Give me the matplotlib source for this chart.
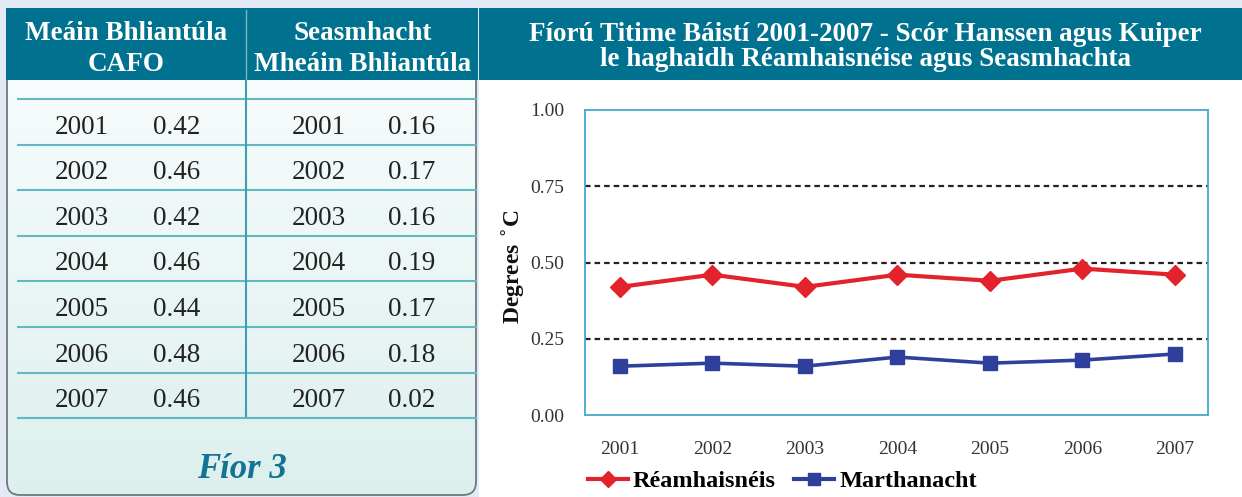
import matplotlib
matplotlib.use('Agg')
import matplotlib.pyplot as plt
from matplotlib.patches import FancyBboxPatch, Rectangle
from matplotlib.lines import Line2D
from matplotlib.font_manager import FontProperties
import numpy as np

# ---------------- data ----------------
years = ['2001', '2002', '2003', '2004', '2005', '2006', '2007']
cafo_table = ['0.42', '0.46', '0.42', '0.46', '0.44', '0.48', '0.46']
seas_table = ['0.16', '0.17', '0.16', '0.19', '0.17', '0.18', '0.02']
forecast = [0.42, 0.46, 0.42, 0.46, 0.44, 0.48, 0.46]
persistence = [0.16, 0.17, 0.16, 0.19, 0.17, 0.18, 0.20]
y_ticks = [0.00, 0.25, 0.50, 0.75, 1.00]
grid_levels = [0.25, 0.50, 0.75]
col_headers = [['Meáin Bhliantúla', 'CAFO'], ['Seasmhacht', 'Mheáin Bhliantúla']]
title_lines = ['Fíorú Titime Báistí 2001-2007 - Scór Hanssen agus Kuiper',
               'le haghaidh Réamhaisnéise agus Seasmhachta']
series_names = ['Réamhaisnéis', 'Marthanacht']
y_label = 'Degrees $^{\\circ}$C'
caption = 'Fíor 3'

# ---------------- style ----------------
SERIF = ['Liberation Serif', 'DejaVu Serif']
TEAL = '#00728f'
LINE_TEAL = '#62b9c4'
RED = '#e2232b'
BLUE = '#2f3f9c'

W, H = 1242, 497
fig = plt.figure(figsize=(W / 100, H / 100), dpi=100)
fig.patch.set_facecolor('#e3eaf5')

bg = fig.add_axes([0, 0, 1, 1])
bg.set_xlim(0, W)
bg.set_ylim(H, 0)
bg.axis('off')

# right panel (white)
bg.add_patch(Rectangle((479, 60), W - 479, H, facecolor='white', edgecolor='none', zorder=1))

# left panel body with gradient and rounded bottom corners
body = FancyBboxPatch((7, 40), 469, 455, boxstyle='round,pad=0,rounding_size=13',
                      facecolor='none', edgecolor='#6b7b80', lw=1.3, zorder=3)
bg.add_patch(body)
grad = np.linspace(0, 1, 256)[:, None]
c_top = np.array([0.98, 0.99, 0.995])
c_bot = np.array([0.865, 0.94, 0.93])
img = c_top[None, None, :] * (1 - grad[:, :, None]) + c_bot[None, None, :] * grad[:, :, None]
im = bg.imshow(img, extent=(7, 476, 495, 40), origin='upper', aspect='auto', zorder=2)
im.set_clip_path(body)

# header bars
bg.add_patch(Rectangle((6, 8), 472, 72, facecolor=TEAL, edgecolor='none', zorder=4))
bg.add_patch(Rectangle((479, 8), W - 479, 72, facecolor=TEAL, edgecolor='none', zorder=4))
bg.plot([246, 246], [10, 80], color='#7fb3c4', lw=1.0, zorder=5)

# header texts
for cx, lines in zip([126, 363], col_headers):
    for yb, txt in zip([40, 71], lines):
        bg.text(cx, yb, txt, ha='center', va='baseline', color='white', fontsize=19.5,
                fontweight='bold', family=SERIF, zorder=6)
for yb, txt in zip([41, 66], title_lines):
    bg.text(865, yb, txt, ha='center', va='baseline', color='white', fontsize=19.5,
            fontweight='bold', family=SERIF, zorder=6)

# table grid
top_line = 99
row_h = 45.6
n = len(years)
for i in range(n + 1):
    y = top_line + i * row_h
    bg.plot([18, 476], [y, y], color=LINE_TEAL, lw=1.5, zorder=5)
bg.plot([246, 246], [80, top_line + n * row_h - 2], color='#3f9fb0', lw=1.5, zorder=5)

# table text
for i, (yr, a, b) in enumerate(zip(years, cafo_table, seas_table)):
    yb = top_line + i * row_h + 34.5
    for cx, t in zip([82, 177, 319, 412], [yr, a, yr, b]):
        bg.text(cx, yb, t, ha='center', va='baseline', fontsize=19.5,
                family=SERIF, color='#222222', zorder=6)

bg.text(242, 478, caption, ha='center', va='baseline', fontsize=25,
        fontweight='bold', fontstyle='italic', family=SERIF, color='#137394', zorder=6)

# ---------------- chart ----------------
ax = fig.add_axes([585 / W, (H - 415) / H, 623 / W, 305 / H])
ax.set_facecolor('white')
x = np.arange(len(years))
for g in grid_levels:
    ax.axhline(g, color='#222222', lw=1.6, ls=(0, (2.5, 1.8)), zorder=1)
ax.plot(x, forecast, color=RED, lw=3.0, marker='D', ms=10, mec=RED, mfc=RED, zorder=3)
ax.plot(x, persistence, color=BLUE, lw=2.6, marker='s', ms=10, mec=BLUE, mfc=BLUE, zorder=3)
ax.set_xlim(-0.378, 6.357)
ax.set_ylim(0, 1.0)
ax.set_yticks(y_ticks)
ax.set_yticklabels([f'{v:.2f}' for v in y_ticks])
ax.set_xticks(x)
ax.set_xticklabels(years)
for sp in ax.spines.values():
    sp.set_color('#45a9cf')
    sp.set_linewidth(1.3)
ax.tick_params(axis='both', length=0, labelsize=14, colors='#333333')
ax.tick_params(axis='y', pad=15)
ax.tick_params(axis='x', pad=19)
for lab in ax.get_xticklabels() + ax.get_yticklabels():
    lab.set_family(SERIF)
    lab.set_color('#333333')

fig.text(513 / W, 1 - 267 / H, y_label, rotation=90, ha='center', va='center',
         fontsize=17, fontweight='bold', family=SERIF, color='#111111')

h1 = Line2D([], [], color=RED, lw=3.0, marker='D', ms=8, mec=RED, mfc=RED)
h2 = Line2D([], [], color=BLUE, lw=3.0, marker='s', ms=8, mec=BLUE, mfc=BLUE)
fig.legend([h1, h2], series_names, loc='center left', bbox_to_anchor=(588 / W, 1 - 481 / H),
           ncol=2, frameon=False, prop=FontProperties(family=SERIF, weight='bold', size=17.5),
           handlelength=1.65, handletextpad=0.2, columnspacing=0.75,
           borderpad=0, borderaxespad=0)

fig.savefig('out.png', dpi=100, facecolor=fig.get_facecolor())
